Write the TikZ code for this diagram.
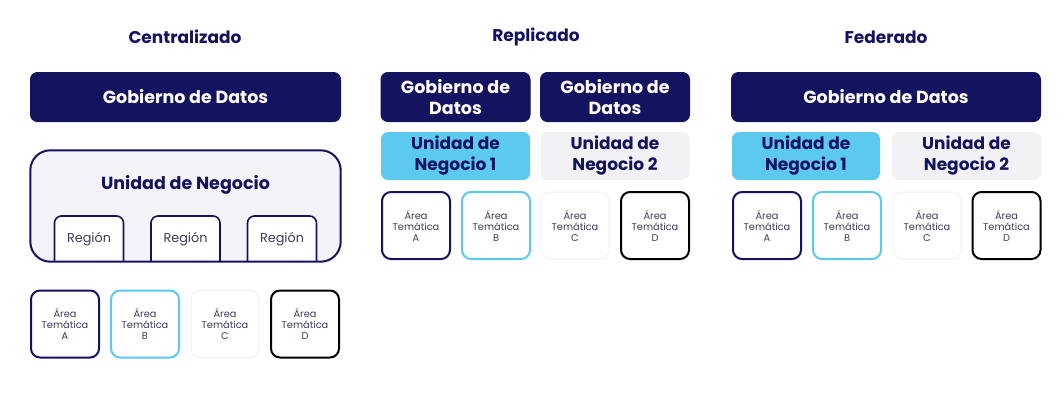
\documentclass[tikz,border=0pt]{standalone}
\usepackage{fontspec}
\setmainfont{Poppins}
\definecolor{navy}{HTML}{13135F}
\definecolor{cyanb}{HTML}{5CC9EE}
\definecolor{lightbg}{HTML}{F4F4F8}
\definecolor{txtgray}{HTML}{3C3C5C}
\definecolor{faint}{HTML}{F2F2F4}
\tikzset{
  title/.style={font=\bfseries\fontsize{17}{19}\selectfont, text=navy},
  gob/.style={draw=navy, fill=navy, rounded corners=7pt, line width=1pt, text=white, font=\bfseries\fontsize{17.5}{21}\selectfont, align=center, inner sep=0pt},
  unbox/.style={rounded corners=7pt, text=navy, font=\bfseries\fontsize{17}{21}\selectfont, align=center, inner sep=0pt},
  region/.style={draw=navy, fill=white, rounded corners=7pt, line width=1.6pt, inner sep=0pt},
  regtext/.style={text=txtgray, font=\fontsize{12.8}{14}\selectfont},
  area/.style={fill=white, rounded corners=9pt, line width=2pt, text=txtgray, font=\fontsize{9.8}{11}\selectfont, align=center, inner sep=0pt, minimum width=68pt, minimum height=67pt},
}
\begin{document}
\begin{tikzpicture}[x=1pt,y=-1pt]
\useasboundingbox[fill=white] (0,0) rectangle (1064,404);

% Titles
\node[title] (t1) at (185,37) {Centralizado};
\node[title] (t2) at (536,37) {Replicado};
\node[title] (t3) at (886,37) {Federado};

% ---------- Centralizado ----------
\node[gob, minimum width=310pt, minimum height=49pt] (cg) at (185.5,97) {Gobierno de Datos};
\node[fill=lightbg, rounded corners=20pt, minimum width=310pt, minimum height=111pt, inner sep=0pt] (cun) at (185.5,206) {};
\node[text=navy, font=\bfseries\fontsize{17.5}{20}\selectfont] (cunt) at (185.5,185) {Unidad de Negocio};
\begin{scope}
\clip[rounded corners=20pt] (31,151) rectangle (340,261);
\node[region, minimum width=69pt, minimum height=52pt] (r1) at (89,242) {};
\node[region, minimum width=69pt, minimum height=52pt] (r2) at (185.5,242) {};
\node[region, minimum width=69pt, minimum height=52pt] (r3) at (282,242) {};
\end{scope}
\node[regtext] (r1t) at (89,239) {Región};
\node[regtext] (r2t) at (185.5,239) {Región};
\node[regtext] (r3t) at (282,239) {Región};
\draw[navy, line width=2pt, rounded corners=20pt] (cun.north west) rectangle (cun.south east);

\node[area, draw=navy] (ca) at (65,324) {Área\\Temática\\A};
\node[area, draw=cyanb] (cb) at (145,324) {Área\\Temática\\B};
\node[area, draw=faint, line width=1pt] (cc) at (225,324) {Área\\Temática\\C};
\node[area, draw=black] (cd) at (305,324) {Área\\Temática\\D};

% ---------- Replicado ----------
\node[gob, minimum width=149pt, minimum height=49pt] (rg1) at (455.5,97) {Gobierno de\\Datos};
\node[gob, minimum width=149pt, minimum height=49pt] (rg2) at (615,97) {Gobierno de\\Datos};
\node[unbox, fill=cyanb, minimum width=149pt, minimum height=48pt] (ru1) at (455.5,156) {Unidad de\\Negocio 1};
\node[unbox, fill=faint, minimum width=149pt, minimum height=48pt] (ru2) at (615,156) {Unidad de\\Negocio 2};
\node[area, draw=navy] (ra) at (416,225.5) {Área\\Temática\\A};
\node[area, draw=cyanb] (rb) at (496,225.5) {Área\\Temática\\B};
\node[area, draw=faint, line width=1pt] (rc) at (575,225.5) {Área\\Temática\\C};
\node[area, draw=black] (rd) at (655,225.5) {Área\\Temática\\D};

% ---------- Federado ----------
\node[gob, minimum width=309pt, minimum height=49pt] (fg) at (886,97) {Gobierno de Datos};
\node[unbox, fill=cyanb, minimum width=148pt, minimum height=48pt] (fu1) at (806,156) {Unidad de\\Negocio 1};
\node[unbox, fill=faint, minimum width=149pt, minimum height=48pt] (fu2) at (966.5,156) {Unidad de\\Negocio 2};
\node[area, draw=navy] (fa) at (767,225.5) {Área\\Temática\\A};
\node[area, draw=cyanb] (fb) at (847,225.5) {Área\\Temática\\B};
\node[area, draw=faint, line width=1pt] (fc) at (927,225.5) {Área\\Temática\\C};
\node[area, draw=black] (fd) at (1006.5,225.5) {Área\\Temática\\D};
\end{tikzpicture}
\end{document}
